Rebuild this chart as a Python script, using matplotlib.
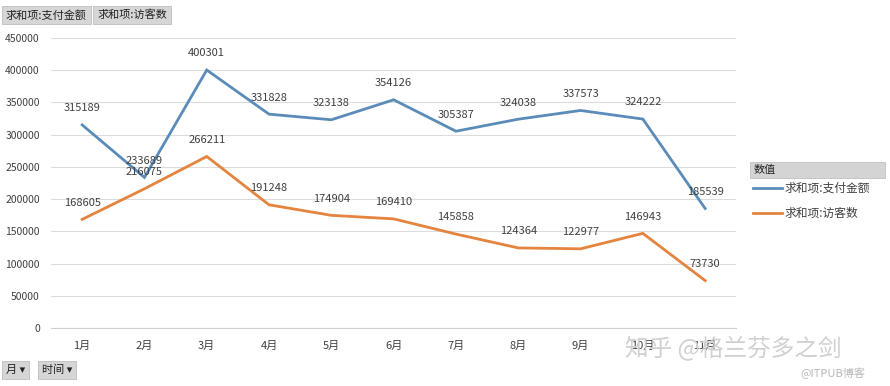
import matplotlib.pyplot as plt
from matplotlib.lines import Line2D

plt.rcParams['font.family'] = ['Noto Sans CJK SC', 'DejaVu Sans']

months = ['1月', '2月', '3月', '4月', '5月', '6月', '7月', '8月', '9月', '10月', '11月']
pay = [315189, 233689, 400301, 331828, 323138, 354126, 305387, 324038, 337573, 324222, 185539]
visitors = [168605, 216075, 266211, 191248, 174904, 169410, 145858, 124364, 122977, 146943, 73730]
yticks = list(range(0, 450001, 50000))

blue = '#5b8cb9'
orange = '#e4843e'
txt = '#404040'

fig = plt.figure(figsize=(8.9, 3.86), dpi=100)
ax = fig.add_axes([0.0573, 0.150, 0.770, 0.7516])

x = list(range(len(months)))
ax.plot(x, pay, color=blue, lw=2.0, solid_joinstyle='miter')
ax.plot(x, visitors, color=orange, lw=2.0, solid_joinstyle='miter')

for xi, v in zip(x, pay):
    ax.annotate(str(v), (xi, v), xytext=(0, 12), textcoords='offset points',
                ha='center', va='center', fontsize=8, color=txt)
for xi, v in zip(x, visitors):
    ax.annotate(str(v), (xi, v), xytext=(0, 12), textcoords='offset points',
                ha='center', va='center', fontsize=8, color=txt)

ax.set_xlim(-0.5, len(months) - 0.5)
ax.set_ylim(0, 450000)
ax.set_yticks(yticks)
ax.set_yticklabels([str(t) for t in yticks])
ax.set_xticks(x)
ax.set_xticklabels(months)
ax.tick_params(length=0, labelsize=8, labelcolor=txt)
ax.tick_params(axis='y', pad=8, labelsize=7.5)
ax.tick_params(axis='x', pad=9)
ax.grid(axis='y', color='#dcdcdc', lw=0.8)
ax.set_axisbelow(True)
for s in ['top', 'right', 'left']:
    ax.spines[s].set_visible(False)
ax.spines['bottom'].set_color('#d0d0d0')

# legend on the right
fig.patches.append(plt.Rectangle((750 / 890, 1 - 178 / 386), 135 / 890, 16 / 386,
                                 transform=fig.transFigure, facecolor='#d4d4d4',
                                 edgecolor='#c0c0c0', lw=0.6))
fig.text(754 / 890, 1 - 170 / 386, '数值', fontsize=8, color='#222222', va='center')
for yy, col, lab in [(188, blue, '求和项:支付金额'), (213, orange, '求和项:访客数')]:
    fig.lines.append(Line2D([753 / 890, 782 / 890], [1 - yy / 386] * 2,
                            transform=fig.transFigure, color=col, lw=2.0))
    fig.text(785 / 890, 1 - yy / 386, lab, fontsize=8.5, color=txt, va='center')

# pivot field buttons
btn = dict(boxstyle='square,pad=0.35', facecolor='#d6d6d6', edgecolor='#bdbdbd', lw=0.6)
fig.text(6 / 890, 1 - 15 / 386, '求和项:支付金额', fontsize=8, color='#222222', va='center', bbox=btn)
fig.text(97 / 890, 1 - 15 / 386, '求和项:访客数', fontsize=8, color='#222222', va='center', bbox=btn)
fig.text(6 / 890, 1 - 370 / 386, '月 ▾', fontsize=8, color='#222222', va='center', bbox=btn)
fig.text(42 / 890, 1 - 370 / 386, '时间 ▾', fontsize=8, color='#222222', va='center', bbox=btn)

# watermark
fig.text(625 / 890, 1 - 348 / 386, '知乎 @格兰芬多之剑', fontsize=17, color='#d0d0d0', va='center')
fig.text(800 / 890, 1 - 373 / 386, '@ITPUB博客', fontsize=8, color='#b8b8b8', va='center')

fig.savefig('out.png', dpi=100)
